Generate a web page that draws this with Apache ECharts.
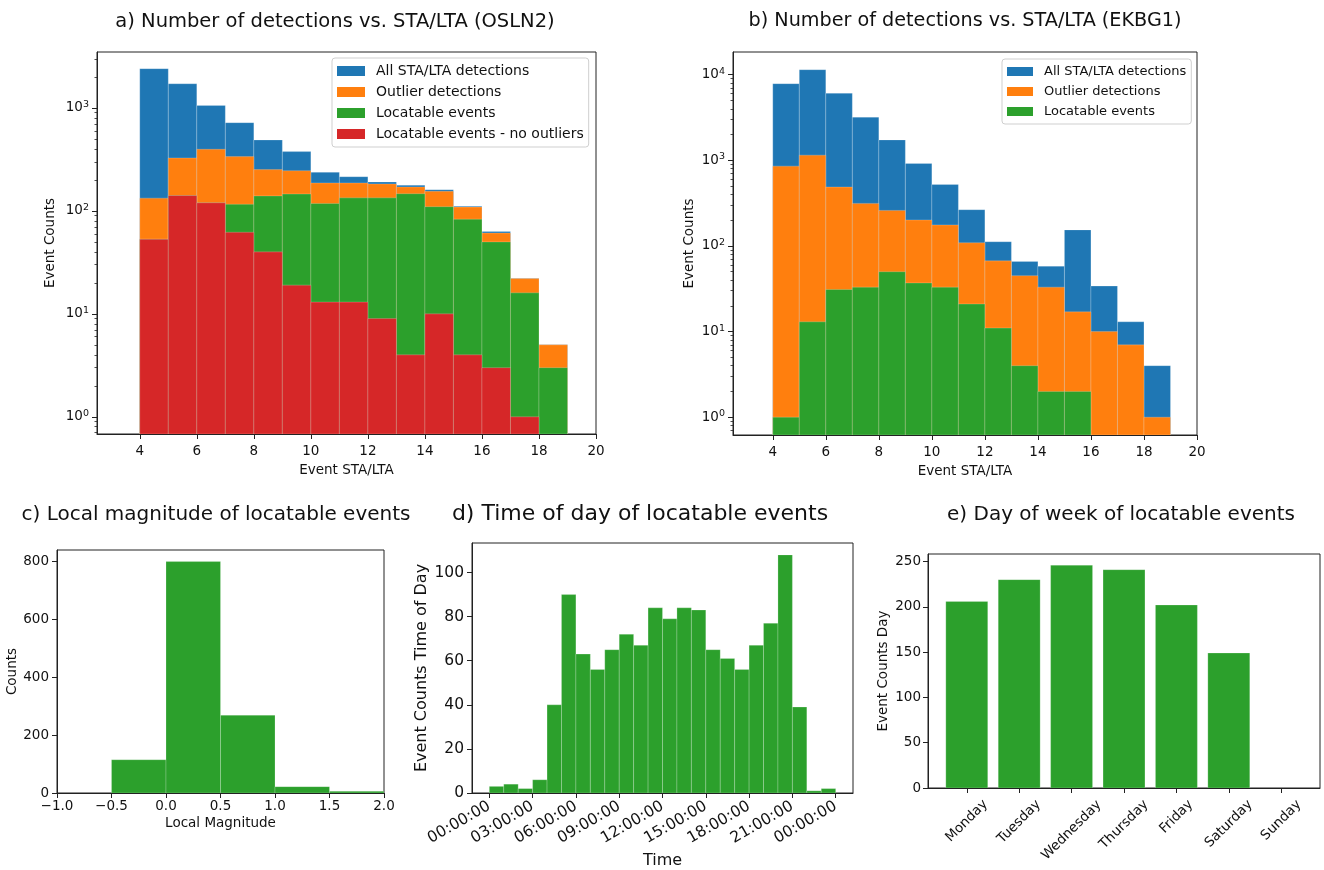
<!DOCTYPE html>
<html>
<head>
<meta charset="utf-8">
<script src="https://cdn.jsdelivr.net/npm/echarts@6/dist/echarts.min.js"></script>
<style>
  html, body { margin: 0; padding: 0; background: #fff; }
  #chart { width: 1324px; height: 870px; }
</style>
</head>
<body>
<div id="chart"></div>
<script>
var FONT = 'DejaVu Sans'
var INK = '#111'
var BLUE = '#1f77b4', ORANGE = '#ff7f0e', GREEN = '#2ca02c', RED = '#d62728'

// a) OSLN2 - STA/LTA histograms, bins of width 1 from 4 to 19
var staltaEdges = [4, 5, 6, 7, 8, 9, 10, 11, 12, 13, 14, 15, 16, 17, 18, 19]
var oslnAll = [2410, 1720, 1060, 720, 489, 377, 237, 215, 191, 178, 161, 111, 63, 22, 5]
var oslnOutlier = [133, 327, 397, 337, 252, 246, 187, 187, 183, 171, 155, 109, 61, 22, 5]
var oslnLocatable = [53, 141, 120, 116, 140, 146, 118, 134, 134, 147, 110, 83, 50, 16, 3]
var oslnNoOutlier = [53, 141, 120, 62, 40, 19, 13, 13, 9, 4, 10, 4, 3, 1, 0]

// b) EKBG1
var ekbgAll = [7850, 11430, 6060, 3190, 1730, 918, 522, 265, 112, 66, 58, 154, 34, 13, 4]
var ekbgOutlier = [855, 1148, 487, 314, 260, 201, 176, 109, 67, 45, 33, 17, 10, 7, 1]
var ekbgLocatable = [1, 13, 31, 33, 50, 37, 33, 21, 11, 4, 2, 2, 0, 0, 0]

// c) local magnitude
var magEdges = [-0.5, 0, 0.5, 1, 1.5, 2]
var magCounts = [115, 800, 269, 22, 6]

// d) time of day (hours)
var hourEdges = [0, 1, 2, 3, 4, 5, 6, 7, 8, 9, 10, 11, 12, 13, 14, 15, 16, 17, 18, 19, 20, 21, 22, 23, 24]
var hourCounts = [3, 4, 2, 6, 40, 90, 63, 56, 65, 72, 67, 84, 79, 84, 83, 65, 61, 56, 67, 77, 108, 39, 1, 2]

// e) day of week
var dayNames = ['Monday', 'Tuesday', 'Wednesday', 'Thursday', 'Friday', 'Saturday', 'Sunday']
var dayCounts = [206, 230, 246, 241, 202, 149, 0]

// tick values
var staltaTicks = [4, 6, 8, 10, 12, 14, 16, 18, 20]
var logTicksA = [1, 10, 100, 1000]
var logTicksB = [1, 10, 100, 1000, 10000]
var magTicks = [-1, -0.5, 0, 0.5, 1, 1.5, 2]
var magYTicks = [0, 200, 400, 600, 800]
var hourTicks = [0, 3, 6, 9, 12, 15, 18, 21, 24]
var hourYTicks = [0, 20, 40, 60, 80, 100]
var dayIdx = [0, 1, 2, 3, 4, 5, 6]
var dayYTicks = [0, 50, 100, 150, 200, 250]

function minorLogTicks(lo, hi) {
	var out = []
	for (var k = -1; k <= 5; k++) {
		for (var m = 2; m <= 9; m++) {
			var v = m * Math.pow(10, k)
			if (v >= lo && v <= hi) out.push(v)
		}
	}
	return out
}

function binData(edges, counts) {
	var out = []
	for (var i = 0; i < counts.length; i++) {
		if (counts[i] > 0) out.push([edges[i], edges[i + 1], counts[i]])
	}
	return out
}

function renderBin(params, api) {
	var v = api.value(2)
	var p0 = api.coord([api.value(0), v])
	var p1 = api.coord([api.value(1), v])
	var cs = params.coordSys
	return {
		type: 'rect',
		shape: { x: p0[0], y: p0[1], width: p1[0] - p0[0], height: cs.y + cs.height - p0[1] },
		style: api.style({ stroke: 'rgba(255,255,255,0.3)', lineWidth: 0.7 })
	}
}

function hist(name, gi, color, data) {
	return {
		name: name, type: 'custom', xAxisIndex: gi, yAxisIndex: gi,
		renderItem: renderBin, itemStyle: { color: color },
		encode: { x: [0, 1], y: 2 }, data: data, clip: true, silent: true
	}
}

function axis(gi, type, min, max, fs, ticks, extra) {
	var a = {
		type: type, gridIndex: gi, min: min, max: max,
		axisLine: { show: true, onZero: false, lineStyle: { color: '#222', width: 1 } },
		axisTick: { show: true, inside: false, length: 5, customValues: ticks, lineStyle: { color: '#222', width: 1 } },
		splitLine: { show: false },
		axisLabel: { customValues: ticks, color: INK, fontFamily: FONT, fontSize: fs },
		nameLocation: 'middle',
		nameTextStyle: { color: INK, fontFamily: FONT, fontSize: fs }
	}
	for (var k in extra) {
		if (typeof extra[k] === 'object' && a[k] && !Array.isArray(extra[k])) {
			for (var j in extra[k]) a[k][j] = extra[k][j]
		} else {
			a[k] = extra[k]
		}
	}
	return a
}

function powLabel(v) {
	return '10{sup|' + Math.round(Math.log10(v)) + '}'
}
var supRich = { sup: { fontSize: 9.5, fontFamily: FONT, color: INK, padding: [0, 0, 7, 0] } }

function signed(v) {
	return v < 0 ? '\u2212' + Math.abs(v).toFixed(1) : v.toFixed(1)
}
function hhmmss(h) {
	var hh = h % 24
	return (hh < 10 ? '0' : '') + hh + ':00:00'
}

// rotated day labels, centred under their ticks like matplotlib's ha='center'
var dayFs = 13.5
var ctx = document.createElement('canvas').getContext('2d')
ctx.font = dayFs + 'px "' + FONT + '"'
var dayRich = {}
dayNames.forEach(function (d) {
	var p = Math.round((ctx.measureText(d).width + dayFs * 1.1) / 2)
	dayRich[d] = { fontSize: dayFs, fontFamily: FONT, color: INK, padding: [p, p, 0, 0] }
})

var dayBars = []
for (var i = 0; i < dayCounts.length; i++) {
	if (dayCounts[i] > 0) dayBars.push([dayIdx[i] - 0.4, dayIdx[i] + 0.4, dayCounts[i]])
}

var gridBase = { show: true, borderColor: '#222', borderWidth: 1, backgroundColor: '#fff', containLabel: false, outerBoundsMode: 'none' }
function grid(l, t, w, h) {
	return Object.assign({ left: l, top: t, width: w, height: h }, gridBase)
}

function title(text, x, y, fs) {
	return {
		text: text, left: x, top: y, textAlign: 'center', padding: 0,
		textStyle: { color: INK, fontFamily: FONT, fontSize: fs, fontWeight: 'normal' }
	}
}

function legend(x, y, fs, iw, ih, names) {
	return {
		left: x, top: y, data: names,
		orient: 'vertical', icon: 'rect', itemWidth: iw, itemHeight: ih, itemGap: 7,
		padding: [6, 5, 6, 5], borderColor: '#cfcfcf', borderWidth: 1, borderRadius: 3,
		backgroundColor: '#fff', selectedMode: false,
		textStyle: { color: INK, fontFamily: FONT, fontSize: fs, padding: [0, 0, 0, 6] }
	}
}

var option = {
	animation: false,
	backgroundColor: '#fff',
	title: [
		title('a) Number of detections vs. STA/LTA (OSLN2)', 335, 12, 19.5),
		title('b) Number of detections vs. STA/LTA (EKBG1)', 965, 12, 19.2),
		title('c) Local magnitude of locatable events', 216, 505, 20),
		title('d) Time of day of locatable events', 640, 503, 22),
		title('e) Day of week of locatable events', 1121, 505, 20)
	],
	legend: [
		legend(332, 58, 14, 28, 10, ['All STA/LTA detections', 'Outlier detections', 'Locatable events', 'Locatable events - no outliers']),
		legend(1002, 59, 13, 26, 9, ['All STA/LTA detections', 'Outlier detections', 'Locatable events'])
	],
	grid: [
		grid(97, 52, 499, 382),
		grid(733, 52, 464, 383),
		grid(57, 550, 327, 243),
		grid(472, 543, 381, 250),
		grid(928, 554, 392, 234)
	],
	xAxis: [
		axis(0, 'value', 2.5, 20, 13.5, staltaTicks, { name: 'Event STA/LTA', nameGap: 29, axisLabel: { margin: 10 } }),
		axis(1, 'value', 2.5, 20, 13.5, staltaTicks, { name: 'Event STA/LTA', nameGap: 29, axisLabel: { margin: 10 } }),
		axis(2, 'value', -1, 2, 13.5, magTicks, { name: 'Local Magnitude', nameGap: 23, axisLabel: { margin: 6, formatter: signed } }),
		axis(3, 'value', -1.2, 25.2, 15.5, hourTicks, { name: 'Time', nameGap: 60, nameTextStyle: { fontSize: 16 }, axisLabel: { margin: 12, rotate: 30, formatter: hhmmss } }),
		axis(4, 'value', -0.74, 6.74, dayFs, dayIdx, {
			axisLabel: {
				margin: 9, rotate: 45, align: 'center', verticalAlign: 'middle', rich: dayRich,
				formatter: function (v) { var d = dayNames[Math.round(v)]; return '{' + d + '|' + d + '}' }
			}
		})
	],
	yAxis: [
		axis(0, 'log', 0.68, 3500, 13.5, logTicksA, { position: 'left', name: 'Event Counts', nameGap: 40, axisLabel: { margin: 8, formatter: powLabel, rich: supRich } }),
		axis(1, 'log', 0.62, 18400, 13.5, logTicksB, { position: 'left', name: 'Event Counts', nameGap: 37, axisLabel: { margin: 8, formatter: powLabel, rich: supRich } }),
		axis(2, 'value', 0, 840, 13.5, magYTicks, { name: 'Counts', nameGap: 38, axisLabel: { margin: 8 } }),
		axis(3, 'value', 0, 113.4, 15.5, hourYTicks, { name: 'Event Counts Time of Day', nameGap: 42, nameTextStyle: { fontSize: 16 }, axisLabel: { margin: 8 } }),
		axis(4, 'value', 0, 258.3, 13.5, dayYTicks, { name: 'Event Counts Day', nameGap: 38, axisLabel: { margin: 7 } }),
		// minor log ticks, drawn on the same left spine
		axis(0, 'log', 0.68, 3500, 13.5, minorLogTicks(0.68, 3500), { position: 'left', offset: 0, axisLine: { show: false }, axisLabel: { show: false }, axisTick: { length: 2.5, lineStyle: { width: 0.8 } } }),
		axis(1, 'log', 0.62, 18400, 13.5, minorLogTicks(0.62, 18400), { position: 'left', offset: 0, axisLine: { show: false }, axisLabel: { show: false }, axisTick: { length: 2.5, lineStyle: { width: 0.8 } } })
	],
	series: [
		hist('All STA/LTA detections', 0, BLUE, binData(staltaEdges, oslnAll)),
		hist('Outlier detections', 0, ORANGE, binData(staltaEdges, oslnOutlier)),
		hist('Locatable events', 0, GREEN, binData(staltaEdges, oslnLocatable)),
		hist('Locatable events - no outliers', 0, RED, binData(staltaEdges, oslnNoOutlier)),
		hist('All STA/LTA detections', 1, BLUE, binData(staltaEdges, ekbgAll)),
		hist('Outlier detections', 1, ORANGE, binData(staltaEdges, ekbgOutlier)),
		hist('Locatable events', 1, GREEN, binData(staltaEdges, ekbgLocatable)),
		hist('magnitude', 2, GREEN, binData(magEdges, magCounts)),
		hist('time of day', 3, GREEN, binData(hourEdges, hourCounts)),
		hist('day of week', 4, GREEN, dayBars)
	]
}

var chart = echarts.init(document.getElementById('chart'), null, { renderer: 'canvas' })
chart.setOption(option)
</script>
</body>
</html>
